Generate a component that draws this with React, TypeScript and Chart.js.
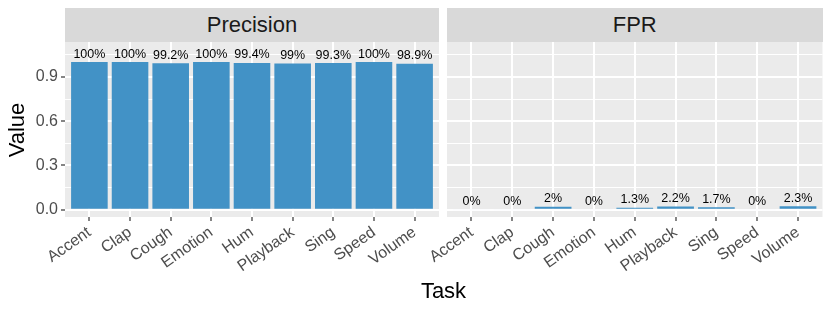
import React, { useEffect, useRef } from 'react';
import { Chart, registerables } from 'chart.js';
Chart.register(...registerables);

const tasks = ['Accent', 'Clap', 'Cough', 'Emotion', 'Hum', 'Playback', 'Sing', 'Speed', 'Volume'];
const precision = [1.0, 1.0, 0.992, 1.0, 0.994, 0.99, 0.993, 1.0, 0.989];
const fpr = [0, 0, 0.02, 0, 0.013, 0.022, 0.017, 0, 0.023];
const yMajorTicks = [0, 0.3, 0.6, 0.9];
const yMinorTicks = [0.15, 0.45, 0.75, 1.05];
const yMin = -0.049;
const yMax = 1.136;
const facetTitles = ['Precision', 'FPR'];
const xTitle = 'Task';
const yTitle = 'Value';

const FAMILY = '"Liberation Sans", Arial, Helvetica, sans-serif';
const BAR_COLOR = '#4292C6';

const fmtPct = (v: number) => Math.round(v * 1000) / 10 + '%';
const isMajor = (v: number) => yMajorTicks.some((m) => Math.abs(m - v) < 1e-9);

const panelBg = {
  id: 'panelBg',
  beforeDraw(chart: any) {
    const { ctx, chartArea: a } = chart;
    ctx.save();
    ctx.fillStyle = '#EBEBEB';
    ctx.fillRect(a.left, a.top, a.right - a.left, a.bottom - a.top);
    ctx.restore();
  },
};

const barLabels = {
  id: 'barLabels',
  afterDatasetsDraw(chart: any) {
    const ctx = chart.ctx;
    const meta = chart.getDatasetMeta(0);
    const data = chart.data.datasets[0].data as any[];
    ctx.save();
    // faint outline of zero-height bars
    ctx.strokeStyle = 'rgba(250,252,255,0.85)';
    ctx.lineWidth = 1.2;
    meta.data.forEach((el: any, i: number) => {
      if (data[i].y === 0) {
        ctx.beginPath();
        ctx.moveTo(el.x - el.width / 2, el.y);
        ctx.lineTo(el.x + el.width / 2, el.y);
        ctx.stroke();
      }
    });
    ctx.font = `12.5px ${FAMILY}`;
    ctx.fillStyle = '#000000';
    ctx.textAlign = 'center';
    ctx.textBaseline = 'alphabetic';
    meta.data.forEach((el: any, i: number) => {
      ctx.fillText(fmtPct(data[i].y), el.x, el.y - 4.5);
    });
    ctx.restore();
  },
};

function makeConfig(values: number[], showY: boolean, padLeft: number, padRight: number): any {
  const allY = [...yMajorTicks, ...yMinorTicks].sort((a, b) => a - b);
  return {
    type: 'bar',
    data: {
      datasets: [
        {
          data: values.map((v, i) => ({ x: i, y: v })),
          backgroundColor: BAR_COLOR,
          borderWidth: 0,
          barPercentage: 0.9,
          categoryPercentage: 1,
        },
      ],
    },
    options: {
      animation: false,
      responsive: false,
      maintainAspectRatio: false,
      layout: { padding: { left: padLeft, right: padRight, top: 0, bottom: 0 } },
      plugins: { legend: { display: false }, tooltip: { enabled: false } },
      scales: {
        x: {
          type: 'linear',
          offset: false,
          min: -0.6,
          max: 8.6,
          afterBuildTicks: (s: any) => {
            s.ticks = tasks.map((_, i) => ({ value: i }));
          },
          afterFit: (s: any) => {
            s.height = 95;
            s.paddingLeft = 0;
            s.paddingRight = 0;
          },
          ticks: {
            autoSkip: false,
            minRotation: 35,
            maxRotation: 35,
            color: '#4D4D4D',
            font: { size: 16, family: FAMILY },
            padding: 2,
            callback: (v: any) => tasks[Math.round(v)] ?? '',
          },
          grid: { offset: false, color: '#FFFFFF', lineWidth: 2, tickLength: 4, tickColor: '#333333', tickWidth: 1.2 },
          border: { display: false },
        },
        y: {
          min: yMin,
          max: yMax,
          afterBuildTicks: (s: any) => {
            s.ticks = allY.map((v) => ({ value: v }));
          },
          afterFit: (s: any) => {
            s.width = showY ? 65 : 0;
            s.paddingTop = 0;
            s.paddingBottom = 0;
          },
          ticks: {
            display: showY,
            color: '#4D4D4D',
            font: { size: 16, family: FAMILY },
            padding: 3,
            callback: (v: any) => (isMajor(v) ? Number(v).toFixed(1) : ''),
          },
          grid: {
            color: '#FFFFFF',
            lineWidth: (c: any) => (c.tick && isMajor(c.tick.value) ? 2 : 1),
            drawTicks: showY,
            tickLength: 4,
            tickWidth: 1.2,
            tickColor: (c: any) => (c.tick && isMajor(c.tick.value) ? '#333333' : 'rgba(0,0,0,0)'),
          },
          border: { display: false },
        },
      },
    },
    plugins: [panelBg, barLabels],
  };
}

export default function App() {
  const leftRef = useRef<HTMLCanvasElement>(null);
  const rightRef = useRef<HTMLCanvasElement>(null);

  useEffect(() => {
    document.body.style.margin = '0';
    const c1 = new Chart(leftRef.current!, makeConfig(precision, true, 0, 1));
    const c2 = new Chart(rightRef.current!, makeConfig(fpr, false, 47, 7.5));
    return () => {
      c1.destroy();
      c2.destroy();
    };
  }, []);

  const stripStyle: React.CSSProperties = {
    position: 'absolute',
    top: 8,
    height: 34,
    lineHeight: '34px',
    background: '#D9D9D9',
    color: '#1A1A1A',
    fontFamily: FAMILY,
    fontSize: 22,
    textAlign: 'center',
  };

  return (
    <div style={{ position: 'relative', width: 830, height: 312, background: '#FFFFFF', overflow: 'hidden' }}>
      <canvas ref={leftRef} width={440} height={270} style={{ position: 'absolute', left: 0, top: 42, display: 'block' }} />
      <canvas ref={rightRef} width={430} height={270} style={{ position: 'absolute', left: 400, top: 42, display: 'block' }} />
      <div style={{ ...stripStyle, left: 65, width: 374 }}>{facetTitles[0]}</div>
      <div style={{ ...stripStyle, left: 447, width: 375.5 }}>{facetTitles[1]}</div>
      <div
        style={{
          position: 'absolute',
          left: 343.5,
          width: 200,
          top: 279.5,
          lineHeight: '22px',
          textAlign: 'center',
          fontFamily: FAMILY,
          fontSize: 22,
          color: '#000000',
        }}
      >
        {xTitle}
      </div>
      <div
        style={{
          position: 'absolute',
          left: 17 - 50,
          top: 129.5 - 11,
          width: 100,
          lineHeight: '22px',
          textAlign: 'center',
          fontFamily: FAMILY,
          fontSize: 22,
          color: '#000000',
          transform: 'rotate(-90deg)',
        }}
      >
        {yTitle}
      </div>
    </div>
  );
}
